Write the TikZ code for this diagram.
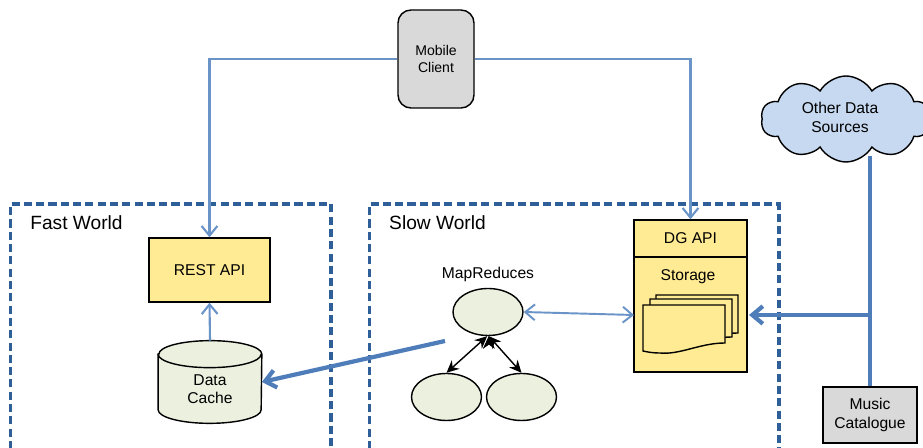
\documentclass[tikz,border=0pt]{standalone}
\usepackage{fontspec}
\setmainfont{Liberation Sans}
\usetikzlibrary{arrows.meta,shapes.geometric,shapes.symbols}
\definecolor{linkblue}{HTML}{6A93C8}
\definecolor{feedblue}{HTML}{4F7DBA}
\definecolor{worldblue}{HTML}{2F5F98}
\definecolor{boxyellow}{HTML}{FFEB94}
\definecolor{boxgrey}{HTML}{D9D9D9}
\definecolor{jobgreen}{HTML}{EBF0DF}
\definecolor{cloudblue}{HTML}{C6D9F0}
\tikzset{
	label text/.style={font=\fontsize{8.9}{10.4}\selectfont, align=center},
	world/.style={draw=worldblue, line width=1.9pt, dash pattern=on 4.6pt off 2.4pt},
	world text/.style={font=\fontsize{10.9}{13}\selectfont},
	box/.style={draw, line width=0.8pt, rectangle, label text},
	job/.style={draw, line width=0.8pt, ellipse, fill=jobgreen, minimum width=1.40cm, minimum height=0.94cm, inner sep=0pt},
	drum/.style={draw, line width=0.8pt, fill=jobgreen},
	drum end/.style={x radius=1.03cm, y radius=0.27cm},
	link/.style={draw=linkblue, line width=1.2pt, -{Straight Barb[length=5.5pt,width=9pt]}},
	twoway/.style={draw=linkblue, line width=1.1pt, {Straight Barb[length=5.5pt,width=9pt]}-{Straight Barb[length=5.5pt,width=9pt]}},
	feed/.style={draw=feedblue, line width=2.4pt},
	feedhead/.style={feed, -{Straight Barb[length=6pt,width=10pt]}},
	spawn/.style={draw=black, line width=0.8pt, {Stealth[length=7pt,width=6.5pt]}-{Stealth[length=7pt,width=6.5pt]}},
	sheet/.style={draw, line width=0.8pt, fill=boxyellow}
}
\begin{document}
\begin{tikzpicture}
	\useasboundingbox (0,0) rectangle (18.46,-8.96);
	% worlds
	\draw[world] (0.21,-8.98) -- (0.21,-4.08) -- (6.62,-4.08) -- (6.62,-8.98);
	\draw[world] (7.39,-8.98) -- (7.39,-4.08) -- (15.58,-4.08) -- (15.58,-8.98);
	\draw (1.53,-4.46) node [world text] (fastworld) {Fast World};
	\draw (8.75,-4.46) node [world text] (slowworld) {Slow World};
	% boxes
	\draw (8.72,-1.18) node [box, rounded corners=0.26cm, fill=boxgrey, minimum width=1.52cm, minimum height=1.96cm, font=\fontsize{8}{10}\selectfont] (mobile) {Mobile\\Client};
	\draw (4.19,-5.40) node [box, fill=boxyellow, minimum width=2.42cm, minimum height=1.28cm] (rest) {REST API};
	\draw (13.81,-4.77) node [box, fill=boxyellow, minimum width=2.26cm, minimum height=0.74cm] (dgapi) {DG API};
	\draw (13.81,-6.29) node [box, fill=boxyellow, minimum width=2.26cm, minimum height=2.30cm] (storage) {};
	\draw (13.76,-5.54) node [label text] (storagetext) {Storage};
	\draw (17.40,-8.30) node [box, fill=boxgrey, minimum width=1.88cm, minimum height=1.12cm] (music) {Music\\Catalogue};
	\draw (16.92,-2.38) node [draw, line width=0.8pt, cloud, cloud puffs=10, cloud puff arc=120, aspect=1.9, fill=cloudblue, minimum width=3.40cm, minimum height=1.72cm, inner sep=0pt] (cloud) {};
	\draw (16.80,-2.35) node [label text] (cloudtext) {Other Data\\Sources};
	% data cache
	\draw (4.20,-7.64) node [minimum width=2.06cm, minimum height=1.64cm, inner sep=0pt] (cache) {};
	\draw[drum] ([yshift=-0.27cm]cache.north west) -- ([yshift=0.27cm]cache.south west)
		arc [start angle=180, end angle=360, drum end] -- ([yshift=-0.27cm]cache.north east)
		arc [start angle=0, end angle=180, drum end] -- cycle;
	\draw[line width=0.8pt] ([yshift=-0.27cm]cache.north west) arc [start angle=180, end angle=360, drum end];
	\draw (4.20,-7.78) node [label text] (cachetext) {Data\\Cache};
	% storage sheets
	\foreach \dx/\dy in {0.26/0.20, 0.14/0.12, 0/0} {
		\draw[sheet, shift={(\dx,\dy)}] (12.86,-6.10) -- (14.50,-6.10) -- (14.50,-6.86)
			.. controls (14.00,-6.86) and (13.60,-7.10) .. (13.20,-7.06)
			.. controls (13.05,-7.06) and (12.95,-7.04) .. (12.86,-7.02) -- cycle;
	}
	% map reduces
	\draw (9.76,-5.48) node [label text] (mapreduces) {MapReduces};
	\draw (9.76,-6.24) node [job] (mapa) {};
	\draw (8.93,-7.94) node [job] (mapb) {};
	\draw (10.43,-7.94) node [job] (mapc) {};
	\path[spawn]
		(mapa.-92) edge (mapb.north)
		(mapa.-88) edge (mapc.north);
	% links
	\coordinate (restcorner) at (rest.north |- mobile.west);
	\coordinate (dgcorner) at (dgapi.north |- mobile.east);
	\draw[link] (mobile.west) -- (restcorner) -- (rest.north);
	\draw[link] (mobile.east) -- (dgcorner) -- (dgapi.north);
	\draw[link] (cache.north) -- (rest.south);
	\coordinate (storageleft) at (12.68,-6.30);
	\draw[twoway] (mapa.east) -- (storageleft);
	% feeds
	\coordinate (feedstart) at (8.90,-6.82);
	\draw[feedhead] (feedstart) -- (cache.east);
	\coordinate (cloudfoot) at (17.40,-3.12);
	\coordinate (feedjoin) at (17.40,-6.30);
	\coordinate (storageright) at (14.98,-6.30);
	\draw[feed] (cloudfoot) -- (music.north);
	\draw[feedhead] (feedjoin) -- (storageright);
\end{tikzpicture}
\end{document}
